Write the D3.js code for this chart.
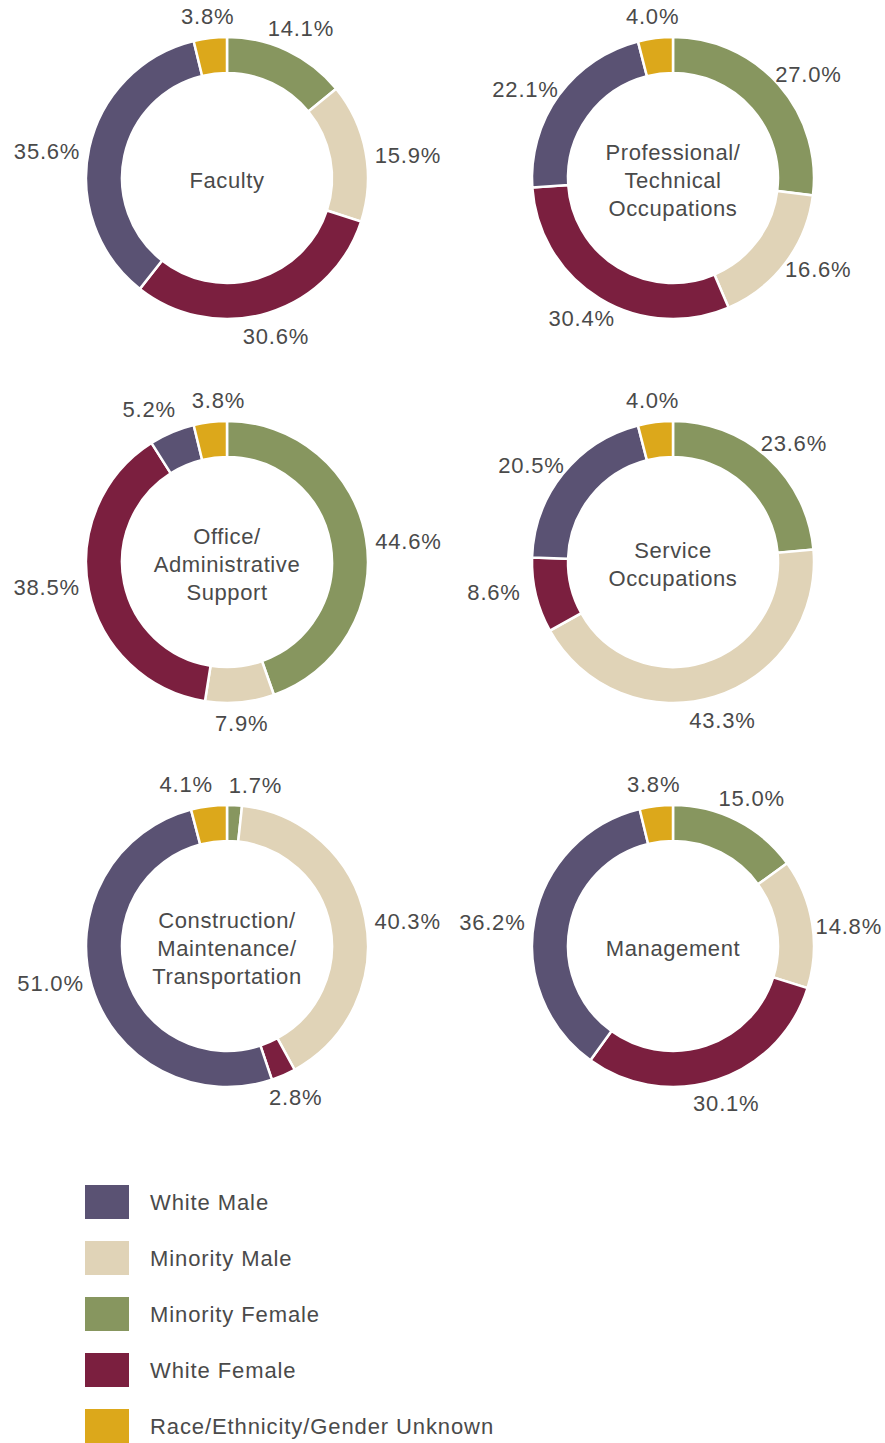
<!DOCTYPE html>
<html>
<head>
<meta charset="utf-8">
<script src="https://cdn.jsdelivr.net/npm/d3@7"></script>
<style>
  body { margin: 0; background: #fff; }
  text { font-family: "Liberation Sans", Arial, sans-serif; fill: #4a4a4a; }
</style>
</head>
<body>
<script>
// groups in clockwise order from 12 o'clock
const groups = ["Minority Female", "Minority Male", "White Female", "White Male", "Race/Ethnicity/Gender Unknown"];
const groupColors = ["#87965f", "#e0d3b7", "#7b1f3f", "#5a5273", "#dca81b"];

// chart titles (line breaks with |)
const titles = [
  "Faculty",
  "Professional/|Technical|Occupations",
  "Office/|Administrative|Support",
  "Service|Occupations",
  "Construction/|Maintenance/|Transportation",
  "Management"
];

// percent for each group, same order as groups
const faculty      = [14.1, 15.9, 30.6, 35.6, 3.8];
const professional = [27.0, 16.6, 30.4, 22.1, 4.0];
const office       = [44.6, 7.9, 38.5, 5.2, 3.8];
const service      = [23.6, 43.3, 8.6, 20.5, 4.0];
const construction = [1.7, 40.3, 2.8, 51.0, 4.1];
const management   = [15.0, 14.8, 30.1, 36.2, 3.8];

// legend order
const legendOrder = ["White Male", "Minority Male", "Minority Female", "White Female", "Race/Ethnicity/Gender Unknown"];

const charts = [faculty, professional, office, service, construction, management];

const W = 885, H = 1443;
const svg = d3.select("body").append("svg")
  .attr("width", W)
  .attr("height", H);

const color = d3.scaleOrdinal().domain(groups).range(groupColors);
const colX = d3.scalePoint().domain([0, 1]).range([227, 673]);
const rowY = d3.scalePoint().domain([0, 1, 2]).range([178, 946]);

const rIn = 105, rOut = 141;
const pie = d3.pie().sort(null).value(d => d.v);
const arc = d3.arc().innerRadius(rIn).outerRadius(rOut);

charts.forEach((vals, i) => {
  const cx = colX(i % 2), cy = rowY(Math.floor(i / 2));
  const g = svg.append("g")
    .attr("transform", `translate(${cx},${cy})`);

  const arcs = pie(vals.map((v, j) => ({ v, name: groups[j] })));

  g.selectAll("path")
    .data(arcs)
    .enter()
    .append("path")
    .attr("d", arc)
    .attr("fill", d => color(d.data.name))
    .attr("stroke", "#fff")
    .attr("stroke-width", 2.5);

  // 百分比标签
  const labels = g.selectAll("text.pct")
    .data(arcs)
    .enter()
    .append("text")
    .attr("class", "pct")
    .attr("text-anchor", "middle")
    .attr("dominant-baseline", "central")
    .style("font-size", "22px")
    .style("letter-spacing", "0.8px")
    .text(d => d.data.v.toFixed(1) + "%");

  const pos = arcs.map(d => {
    const a = (d.startAngle + d.endAngle) / 2;
    const s = Math.sin(a), c = Math.cos(a);
    const r = rOut + 9 + 33 * Math.abs(s) + 9 * Math.abs(c);
    const k = 0.6 + 0.4 * Math.abs(c);
    return { x: r * s, y: -r * c * k };
  });

  // push apart labels that collide
  const widths = [];
  labels.each(function (d, k) { widths[k] = this.getComputedTextLength(); });
  for (let iter = 0; iter < 5; iter++) {
    for (let a = 0; a < pos.length; a++) {
      for (let b = a + 1; b < pos.length; b++) {
        const need = (widths[a] + widths[b]) / 2 + 16;
        const dx = pos[b].x - pos[a].x;
        if (Math.abs(dx) < need && Math.abs(pos[b].y - pos[a].y) < 22) {
          const shift = (need - Math.abs(dx)) / 2;
          const sgn = dx >= 0 ? 1 : -1;
          pos[a].x -= sgn * shift;
          pos[b].x += sgn * shift;
        }
      }
    }
  }
  // keep inside the page
  pos.forEach((p, k) => {
    const half = widths[k] / 2 + 3;
    p.x = Math.max(half - cx, Math.min(W - half - cx, p.x));
  });
  labels.attr("x", (d, k) => pos[k].x).attr("y", (d, k) => pos[k].y);

  // 中间标题
  const lines = titles[i].split("|");
  const lh = 28;
  g.append("text")
    .attr("text-anchor", "middle")
    .style("font-size", "22px")
    .style("letter-spacing", "0.6px")
    .selectAll("tspan")
    .data(lines)
    .enter()
    .append("tspan")
    .attr("x", 0)
    .attr("y", (d, k) => 2 + (k - (lines.length - 1) / 2) * lh)
    .attr("dominant-baseline", "central")
    .text(d => d);
});

// legend
const leg = svg.append("g");
const legY = d3.scalePoint().domain(legendOrder).range([1185, 1409]);

leg.selectAll("rect")
  .data(legendOrder)
  .enter()
  .append("rect")
  .attr("x", 85)
  .attr("y", d => legY(d))
  .attr("width", 44)
  .attr("height", 34)
  .attr("fill", d => color(d));

leg.selectAll("text")
  .data(legendOrder)
  .enter()
  .append("text")
  .attr("x", 150)
  .attr("y", d => legY(d) + 17)
  .attr("dominant-baseline", "central")
  .style("font-size", "22px")
  .style("letter-spacing", "0.9px")
  .text(d => d);
</script>
</body>
</html>
